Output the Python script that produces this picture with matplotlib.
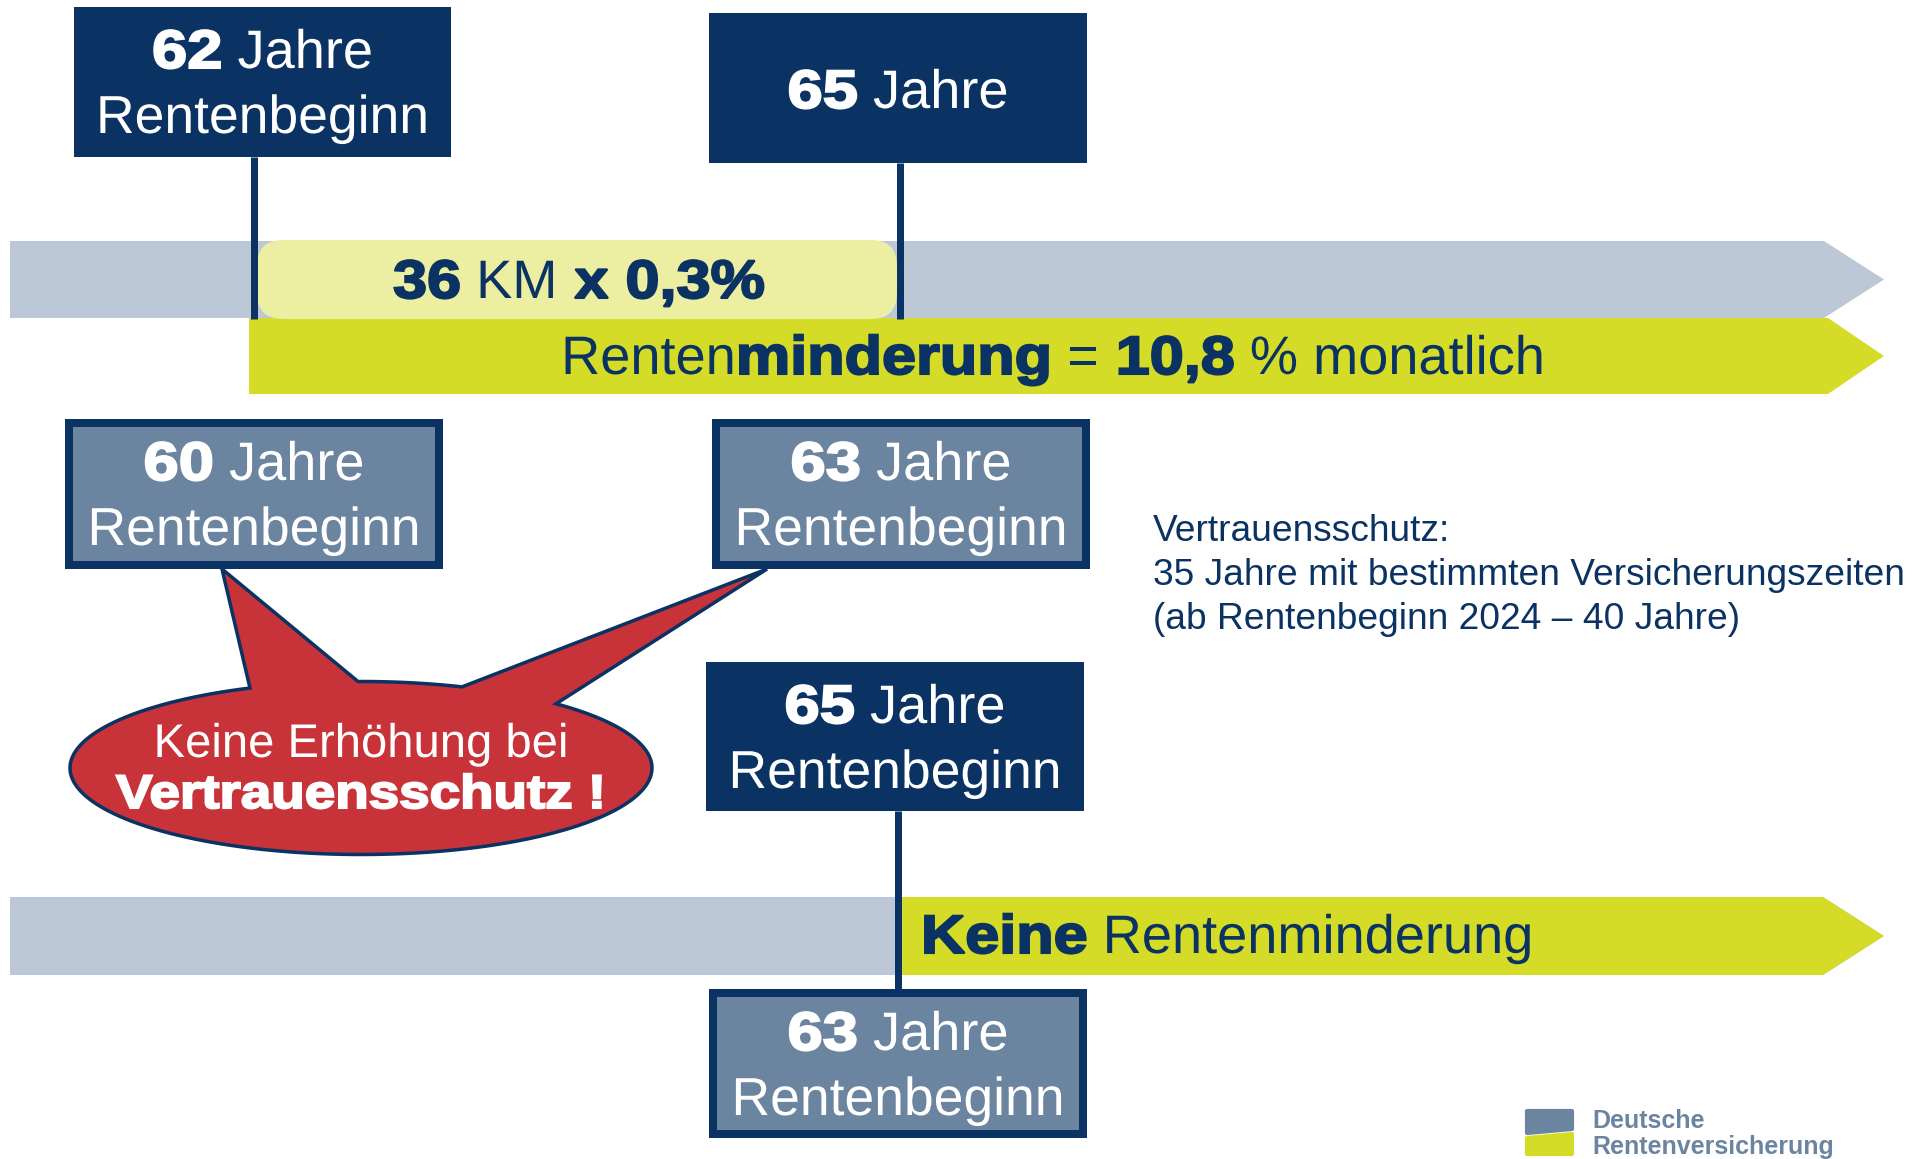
import numpy as np
import matplotlib
matplotlib.use("Agg")
import matplotlib.pyplot as plt
from matplotlib.patches import Polygon, Rectangle, FancyBboxPatch, PathPatch
from matplotlib.textpath import TextPath, TextToPath
from matplotlib.font_manager import FontProperties
from matplotlib.transforms import Affine2D

plt.rcParams['font.family'] = ['Liberation Sans', 'DejaVu Sans']

NAVY = '#0a3262'
SLATE = '#6b84a0'
GREYBAR = '#bcc8d5'
GREEN = '#d4dc28'
PALE = '#ecefa2'
RED = '#c8333a'
PX = 72 / 100.0   # points per pixel

# box labels
box_age = ["62", "65", "60", "63", "65", "63"]
box_sub = ["Rentenbeginn", "", "Rentenbeginn", "Rentenbeginn", "Rentenbeginn", "Rentenbeginn"]
box_dark = [True, True, False, False, True, False]
box_xy = [(74, 7, 451, 157), (709, 13, 1087, 163), (65, 419, 443, 569),
          (712, 419, 1090, 569), (706, 662, 1084, 811), (709, 989, 1087, 1138)]

# texts on the arrows
calc_runs = [("36", "bold"), (" KM", "normal"), (" x 0,3%", "bold")]
minder_runs = [("Renten", "normal"), ("minderung", "bold"), (" =", "normal"),
               (" 10,8", "bold"), (" % monatlich", "normal")]
keine_runs = [("Keine", "bold"), (" Rentenminderung", "normal")]
note_lines = ["Vertrauensschutz:", "35 Jahre mit bestimmten Versicherungszeiten",
              "(ab Rentenbeginn 2024 \u2013 40 Jahre)"]
bubble_lines = [("Keine Erhöhung bei", "normal"), ("Vertrauensschutz !", "bold")]

fig = plt.figure(figsize=(19.21, 11.59), dpi=100)
ax = fig.add_axes([0, 0, 1, 1])
ax.set_xlim(0, 1921)
ax.set_ylim(1159, 0)
ax.axis('off')
ttp = TextToPath()


def runs(x, y, parts, size, color, ha='center', z=10, bx=1.13):
    # draw text pieces as paths so bold pieces can be widened like Arial Black
    em = size / PX
    items = []
    for s, w in parts:
        prop = FontProperties(family='Liberation Sans', weight=w, size=em)
        wd = ttp.get_text_width_height_descent(s, prop, ismath=False)[0]
        sx = bx if w == 'bold' else 1.0
        items.append((TextPath((0, 0), s, prop=prop), sx, wd * sx, w))
    total = sum(it[2] for it in items)
    x0 = x - total / 2 if ha == 'center' else x
    for path, sx, wd, w in items:
        tr = Affine2D().scale(sx, -1).translate(x0, y)
        lw = 1.5 if w == 'bold' else 0
        ax.add_patch(PathPatch(tr.transform_path(path), fc=color, ec=color, lw=lw, zorder=z))
        x0 += wd


def arrow(x0, x1, tip, y0, y1, color, z):
    pts = [(x0, y0), (x1, y0), (tip, (y0 + y1) / 2), (x1, y1), (x0, y1)]
    ax.add_patch(Polygon(pts, closed=True, fc=color, ec='none', zorder=z))


# upper timeline
arrow(10, 1824, 1884, 241, 318, GREYBAR, 1)
arrow(249, 1828, 1884, 318, 394, GREEN, 2)
ax.add_patch(FancyBboxPatch((257, 240), 640, 79, boxstyle="round,pad=0,rounding_size=26",
                            fc=PALE, ec='none', zorder=3))
runs(579, 298, calc_runs, 39, NAVY)
runs(1053, 374, minder_runs, 39, NAVY)

# lower timeline
arrow(10, 1823, 1884, 897, 975, GREYBAR, 1)
arrow(902, 1823, 1884, 897, 975, GREEN, 2)
runs(921, 953, keine_runs, 39, NAVY, ha='left')

# connector lines
for lx, ly0, ly1 in [(254, 157, 319), (900, 163, 319), (898, 811, 989)]:
    ax.plot([lx, lx], [ly0, ly1], color=NAVY, lw=7 * PX, solid_capstyle='butt', zorder=4)

# callout bubble
cx, cy, a, b = 361, 768, 291, 86.5


def ell(t):
    return np.column_stack([cx + a * np.cos(t), cy - b * np.sin(t)])


def th(x):
    return np.arccos((x - cx) / a)


pts = np.vstack([ell(np.linspace(0, th(556), 40)), [(767, 569)],
                 ell(np.linspace(th(462), th(358), 20)), [(222, 569)],
                 ell(np.linspace(th(250), 2 * np.pi, 120))])
ax.add_patch(Polygon(pts, closed=True, fc=RED, ec=NAVY, lw=3.5 * PX, joinstyle='miter', zorder=5))
runs(cx, 757, [bubble_lines[0]], 34, 'white', z=6)
runs(cx, 808, [bubble_lines[1]], 34, 'white', z=6, bx=1.16)

# boxes
for age, sub, dark, (x0, y0, x1, y1) in zip(box_age, box_sub, box_dark, box_xy):
    if dark:
        ax.add_patch(Rectangle((x0, y0), x1 - x0, y1 - y0, fc=NAVY, ec='none', zorder=7))
    else:
        ax.add_patch(Rectangle((x0 + 4, y0 + 4), x1 - x0 - 8, y1 - y0 - 8, fc=SLATE, ec=NAVY,
                               lw=8 * PX, joinstyle='miter', zorder=7))
    xc = (x0 + x1) / 2
    if sub:
        runs(xc, y0 + 61, [(age, "bold"), (" Jahre", "normal")], 39, 'white', z=8, bx=1.17)
        runs(xc, y0 + 126, [(sub, "normal")], 38.5, 'white', z=8)
    else:
        runs(xc, (y0 + y1) / 2 + 20, [(age, "bold"), (" Jahre", "normal")], 39, 'white', z=8, bx=1.17)

# note on the right
for yb, line in zip([541, 585, 629], note_lines):
    ax.text(1153, yb, line, fontsize=26.7, color=NAVY, va='baseline', ha='left')

# logo
ax.add_patch(Polygon([(1527, 1111), (1572, 1111), (1572, 1129), (1527, 1133)], closed=True,
                     fc=SLATE, ec=SLATE, lw=3, joinstyle='round'))
ax.add_patch(Polygon([(1527, 1138), (1572, 1134), (1572, 1154), (1527, 1154)], closed=True,
                     fc=GREEN, ec=GREEN, lw=3, joinstyle='round'))
ax.text(1592, 1128, "Deutsche", fontsize=18, fontweight='bold', color=SLATE, va='baseline')
ax.text(1592, 1154, "Rentenversicherung", fontsize=18, fontweight='bold', color=SLATE, va='baseline')

fig.savefig("out.png", dpi=100)
